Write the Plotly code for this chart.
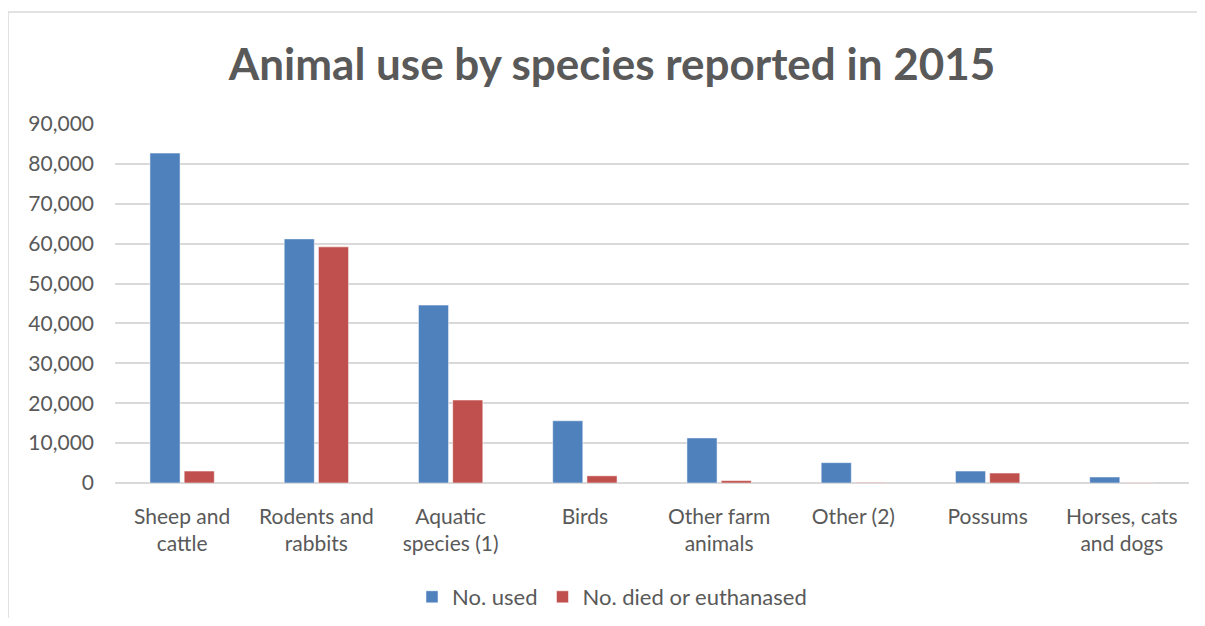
import plotly.graph_objects as go

categories = ["Sheep and<br>cattle", "Rodents and<br>rabbits", "Aquatic<br>species (1)", "Birds",
              "Other farm<br>animals", "Other (2)", "Possums", "Horses, cats<br>and dogs"]
no_used = [82700, 61200, 44600, 15600, 11300, 5100, 3000, 1500]
no_died = [3000, 59200, 20800, 1800, 600, 150, 2500, 100]
y_ticks = [0, 10000, 20000, 30000, 40000, 50000, 60000, 70000, 80000, 90000]

# page body has an 8px margin; figure coordinates = picture coordinates - 8
O = 8
W, H = 1205 - 2 * O, 626 - 2 * O
L, T = 115 - O, 124 - O
R = W - (1189 - O)
B = H - (483 - O)
pw, ph = W - L - R, H - T - B

font_family = "Lato, 'Open Sans', sans-serif"
text_color = "#595959"

fig = go.Figure()
fig.add_trace(go.Bar(name="No. used", x=categories, y=no_used,
                     marker=dict(color="#4F81BD", line=dict(color="rgba(255,255,255,0.5)", width=1))))
fig.add_trace(go.Bar(name="No. died or euthanased", x=categories, y=no_died,
                     marker=dict(color="#C0504D", line=dict(color="rgba(255,255,255,0.5)", width=1))))

def px_x(x):
    return (x - O - L) / pw

def px_y(y):
    return (H - B - (y - O)) / ph

fig.update_layout(
    width=W, height=H,
    margin=dict(l=L, r=R, t=T, b=B, autoexpand=False),
    paper_bgcolor="white", plot_bgcolor="white",
    barmode="group", bargap=0.49, bargroupgap=0.12,
    title=dict(text="<b>Animal use by species reported in 2015</b>", x=px_x(612), xanchor="center",
               xref="paper", y=1 - (65 - O) / H, yanchor="middle",
               font=dict(family=font_family, size=44, color=text_color)),
    font=dict(family=font_family, size=21, color=text_color),
    xaxis=dict(showgrid=False, showline=False, ticks="", ticklabelstandoff=19,
               tickfont=dict(size=21, color=text_color)),
    yaxis=dict(range=[0, 90000], tickvals=y_ticks, tickformat=",", showgrid=True,
               gridcolor="#D9D9D9", gridwidth=1.5, zeroline=True, zerolinecolor="#D9D9D9",
               zerolinewidth=1.5, ticks="", ticklen=0, ticklabelstandoff=20,
               tickfont=dict(size=21, color=text_color)),
    legend=dict(orientation="h", x=(612 - O) / W, xref="container", xanchor="center",
                y=1 - (597 - O) / H, yref="container", yanchor="middle",
                font=dict(size=22, color=text_color), traceorder="normal"),
    showlegend=True,
    shapes=[
        dict(type="line", xref="paper", yref="paper", x0=px_x(8), x1=px_x(1205), y0=px_y(12), y1=px_y(12),
             line=dict(color="#D9D9D9", width=1.5)),
        dict(type="line", xref="paper", yref="paper", x0=px_x(8), x1=px_x(8), y0=px_y(12), y1=px_y(626),
             line=dict(color="#D9D9D9", width=1.5)),
    ],
)

fig.write_html("out.html")
